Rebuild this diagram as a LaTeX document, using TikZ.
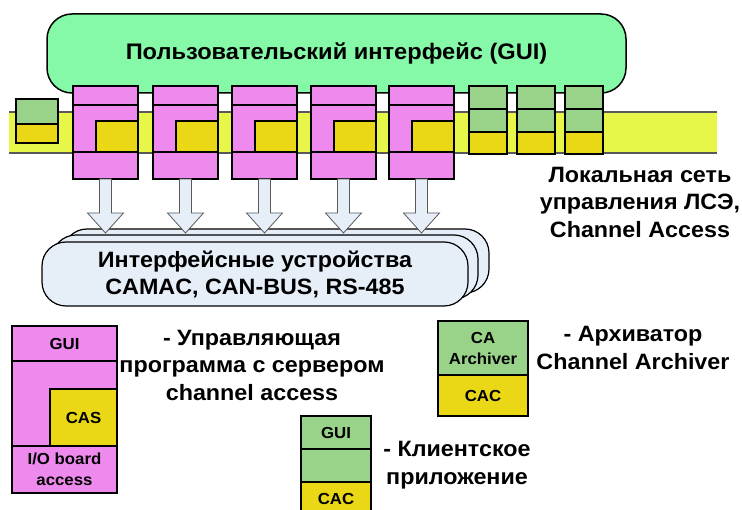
\documentclass[tikz,border=0pt]{standalone}
\usepackage{fontspec}
\setmainfont{Liberation Sans}[FakeStretch=1.05]
\usetikzlibrary{calc}

\definecolor{guigreen}{HTML}{86F9A9}
\definecolor{pinkc}{HTML}{EE8AEE}
\definecolor{cayellow}{HTML}{EAD817}
\definecolor{bandyellow}{HTML}{E6F74A}
\definecolor{clientgreen}{HTML}{99D38A}
\definecolor{devblue}{HTML}{E6EEF8}

\begin{document}
\begin{tikzpicture}[x=1pt,y=-1pt,
  every node/.style={inner sep=0pt, outer sep=0pt},
  pinkbox/.style={draw, line width=1.5pt, fill=pinkc},
  casbox/.style={draw, line width=1.5pt, fill=cayellow},
  clientbox/.style={draw, line width=1.5pt, fill=clientgreen},
  ptop/.style={pinkbox, minimum width=65, minimum height=19},
  pmid/.style={pinkbox, minimum width=65, minimum height=47},
  pcas/.style={casbox, minimum width=42, minimum height=31},
  pbot/.style={pinkbox, minimum width=65, minimum height=27},
  gcell/.style={clientbox, minimum width=38, minimum height=23},
  ycell/.style={casbox, minimum width=38, minimum height=22},
  devbox/.style={draw, line width=1.2pt, fill=devblue, rounded corners=24,
    minimum width=426, minimum height=64},
  blockarrow/.style={draw=gray!70!black, fill=devblue, line width=0.8pt},
  big/.style={font=\fontsize{22.2}{27}\selectfont\bfseries, align=center},
  small/.style={font=\fontsize{16}{21}\selectfont\bfseries, align=center}]
\useasboundingbox (0,0) rectangle (742,510);

% GUI and the local network
\node[draw, line width=1.5pt, fill=guigreen, rounded corners=25,
  minimum width=579, minimum height=79, big, font=\fontsize{22.5}{27.5}\selectfont\bfseries] (gui) at (336.5,53.5)
  {Пользовательский интерфейс (GUI)};
\node[fill=bandyellow, minimum width=708, minimum height=41] (band) at (363,132.5) {};
\draw[gray!70!black, line width=1.2pt] (band.north west) -- (band.north east);
\draw[gray!70!black, line width=1.2pt] (band.south west) -- (band.south east);

% small client on the left
\node[clientbox, minimum width=42, minimum height=25] (l1) at (37,111.5) {};
\node[casbox, minimum width=42, minimum height=19] (l2) at (37,133.5) {};

% control programs
\node[ptop] (p1t) at (105.5,95.5) {};
\node[pmid] (p1m) at (105.5,128.5) {};
\node[pcas] (p1c) at (117,136.5) {};
\node[pbot] (p1b) at (105.5,165.5) {};

\node[ptop] (p2t) at (185.5,95.5) {};
\node[pmid] (p2m) at (185.5,128.5) {};
\node[pcas] (p2c) at (197,136.5) {};
\node[pbot] (p2b) at (185.5,165.5) {};

\node[ptop] (p3t) at (264.5,95.5) {};
\node[pmid] (p3m) at (264.5,128.5) {};
\node[pcas] (p3c) at (276,136.5) {};
\node[pbot] (p3b) at (264.5,165.5) {};

\node[ptop] (p4t) at (343.5,95.5) {};
\node[pmid] (p4m) at (343.5,128.5) {};
\node[pcas] (p4c) at (355,136.5) {};
\node[pbot] (p4b) at (343.5,165.5) {};

\node[ptop] (p5t) at (421.5,95.5) {};
\node[pmid] (p5m) at (421.5,128.5) {};
\node[pcas] (p5c) at (433,136.5) {};
\node[pbot] (p5b) at (421.5,165.5) {};

% clients
\node[gcell] (c1t) at (488,97.5) {};
\node[gcell] (c1m) at (488,120.5) {};
\node[ycell] (c1b) at (488,143) {};
\node[gcell] (c2t) at (536,97.5) {};
\node[gcell] (c2m) at (536,120.5) {};
\node[ycell] (c2b) at (536,143) {};
\node[gcell] (c3t) at (584,97.5) {};
\node[gcell] (c3m) at (584,120.5) {};
\node[ycell] (c3b) at (584,143) {};

\node[big, font=\fontsize{22.2}{27.5}\selectfont\bfseries] (lan) at (640,202) {Локальная сеть\\управления ЛСЭ,\\Channel Access};

% interface devices
\node[devbox] (dev3) at (276,261) {};
\node[devbox] (dev2) at (265,267) {};
\node[devbox] (dev1) at (255,274) {};
\node[big] (devtext) at (255,274) {Интерфейсные устройства\\CAMAC, CAN-BUS, RS-485};

\draw[blockarrow] ($(p1b.south)+(-6,0)$) -- ++(0,34) -- ++(-12,0) -- ++(18,20) -- ++(18,-20) -- ++(-12,0) -- ++(0,-34) -- cycle;
\draw[blockarrow] ($(p2b.south)+(-6,0)$) -- ++(0,34) -- ++(-12,0) -- ++(18,20) -- ++(18,-20) -- ++(-12,0) -- ++(0,-34) -- cycle;
\draw[blockarrow] ($(p3b.south)+(-6,0)$) -- ++(0,34) -- ++(-12,0) -- ++(18,20) -- ++(18,-20) -- ++(-12,0) -- ++(0,-34) -- cycle;
\draw[blockarrow] ($(p4b.south)+(-6,0)$) -- ++(0,34) -- ++(-12,0) -- ++(18,20) -- ++(18,-20) -- ++(-12,0) -- ++(0,-34) -- cycle;
\draw[blockarrow] ($(p5b.south)+(-6,0)$) -- ++(0,34) -- ++(-12,0) -- ++(18,20) -- ++(18,-20) -- ++(-12,0) -- ++(0,-34) -- cycle;

% legend: control program
\node[pinkbox, minimum width=105, minimum height=35, small] (lpt) at (64.5,343.5) {GUI};
\node[pinkbox, minimum width=105, minimum height=85] (lpm) at (64.5,403.5) {};
\node[casbox, minimum width=67, minimum height=57, small] (lpc) at (83.5,417.5) {CAS};
\node[pinkbox, minimum width=105, minimum height=47, small] (lpb) at (64.5,469.5) {I/O board\\access};
\node[big, font=\fontsize{22.2}{27.5}\selectfont\bfseries] (ltext) at (252,365) {- Управляющая\\программа с сервером\\channel access};

% legend: archiver
\node[clientbox, minimum width=90, minimum height=54, small] (lat) at (483,348) {CA\\Archiver};
\node[casbox, minimum width=90, minimum height=41, small] (lab) at (483,395.5) {CAC};
\node[big, font=\fontsize{22.2}{27.5}\selectfont\bfseries] (atext) at (633,348) {- Архиватор\\Channel Archiver};

% legend: client
\node[clientbox, minimum width=70, minimum height=33, small] (lct) at (336,432.5) {GUI};
\node[clientbox, minimum width=70, minimum height=33] (lcm) at (336,465.5) {};
\node[casbox, minimum width=70, minimum height=33, small] (lcb) at (336,498.5) {CAC};
\node[big, font=\fontsize{22.2}{27.5}\selectfont\bfseries] (ctext) at (457,465) {- Клиентское\\приложение};
\end{tikzpicture}
\end{document}
